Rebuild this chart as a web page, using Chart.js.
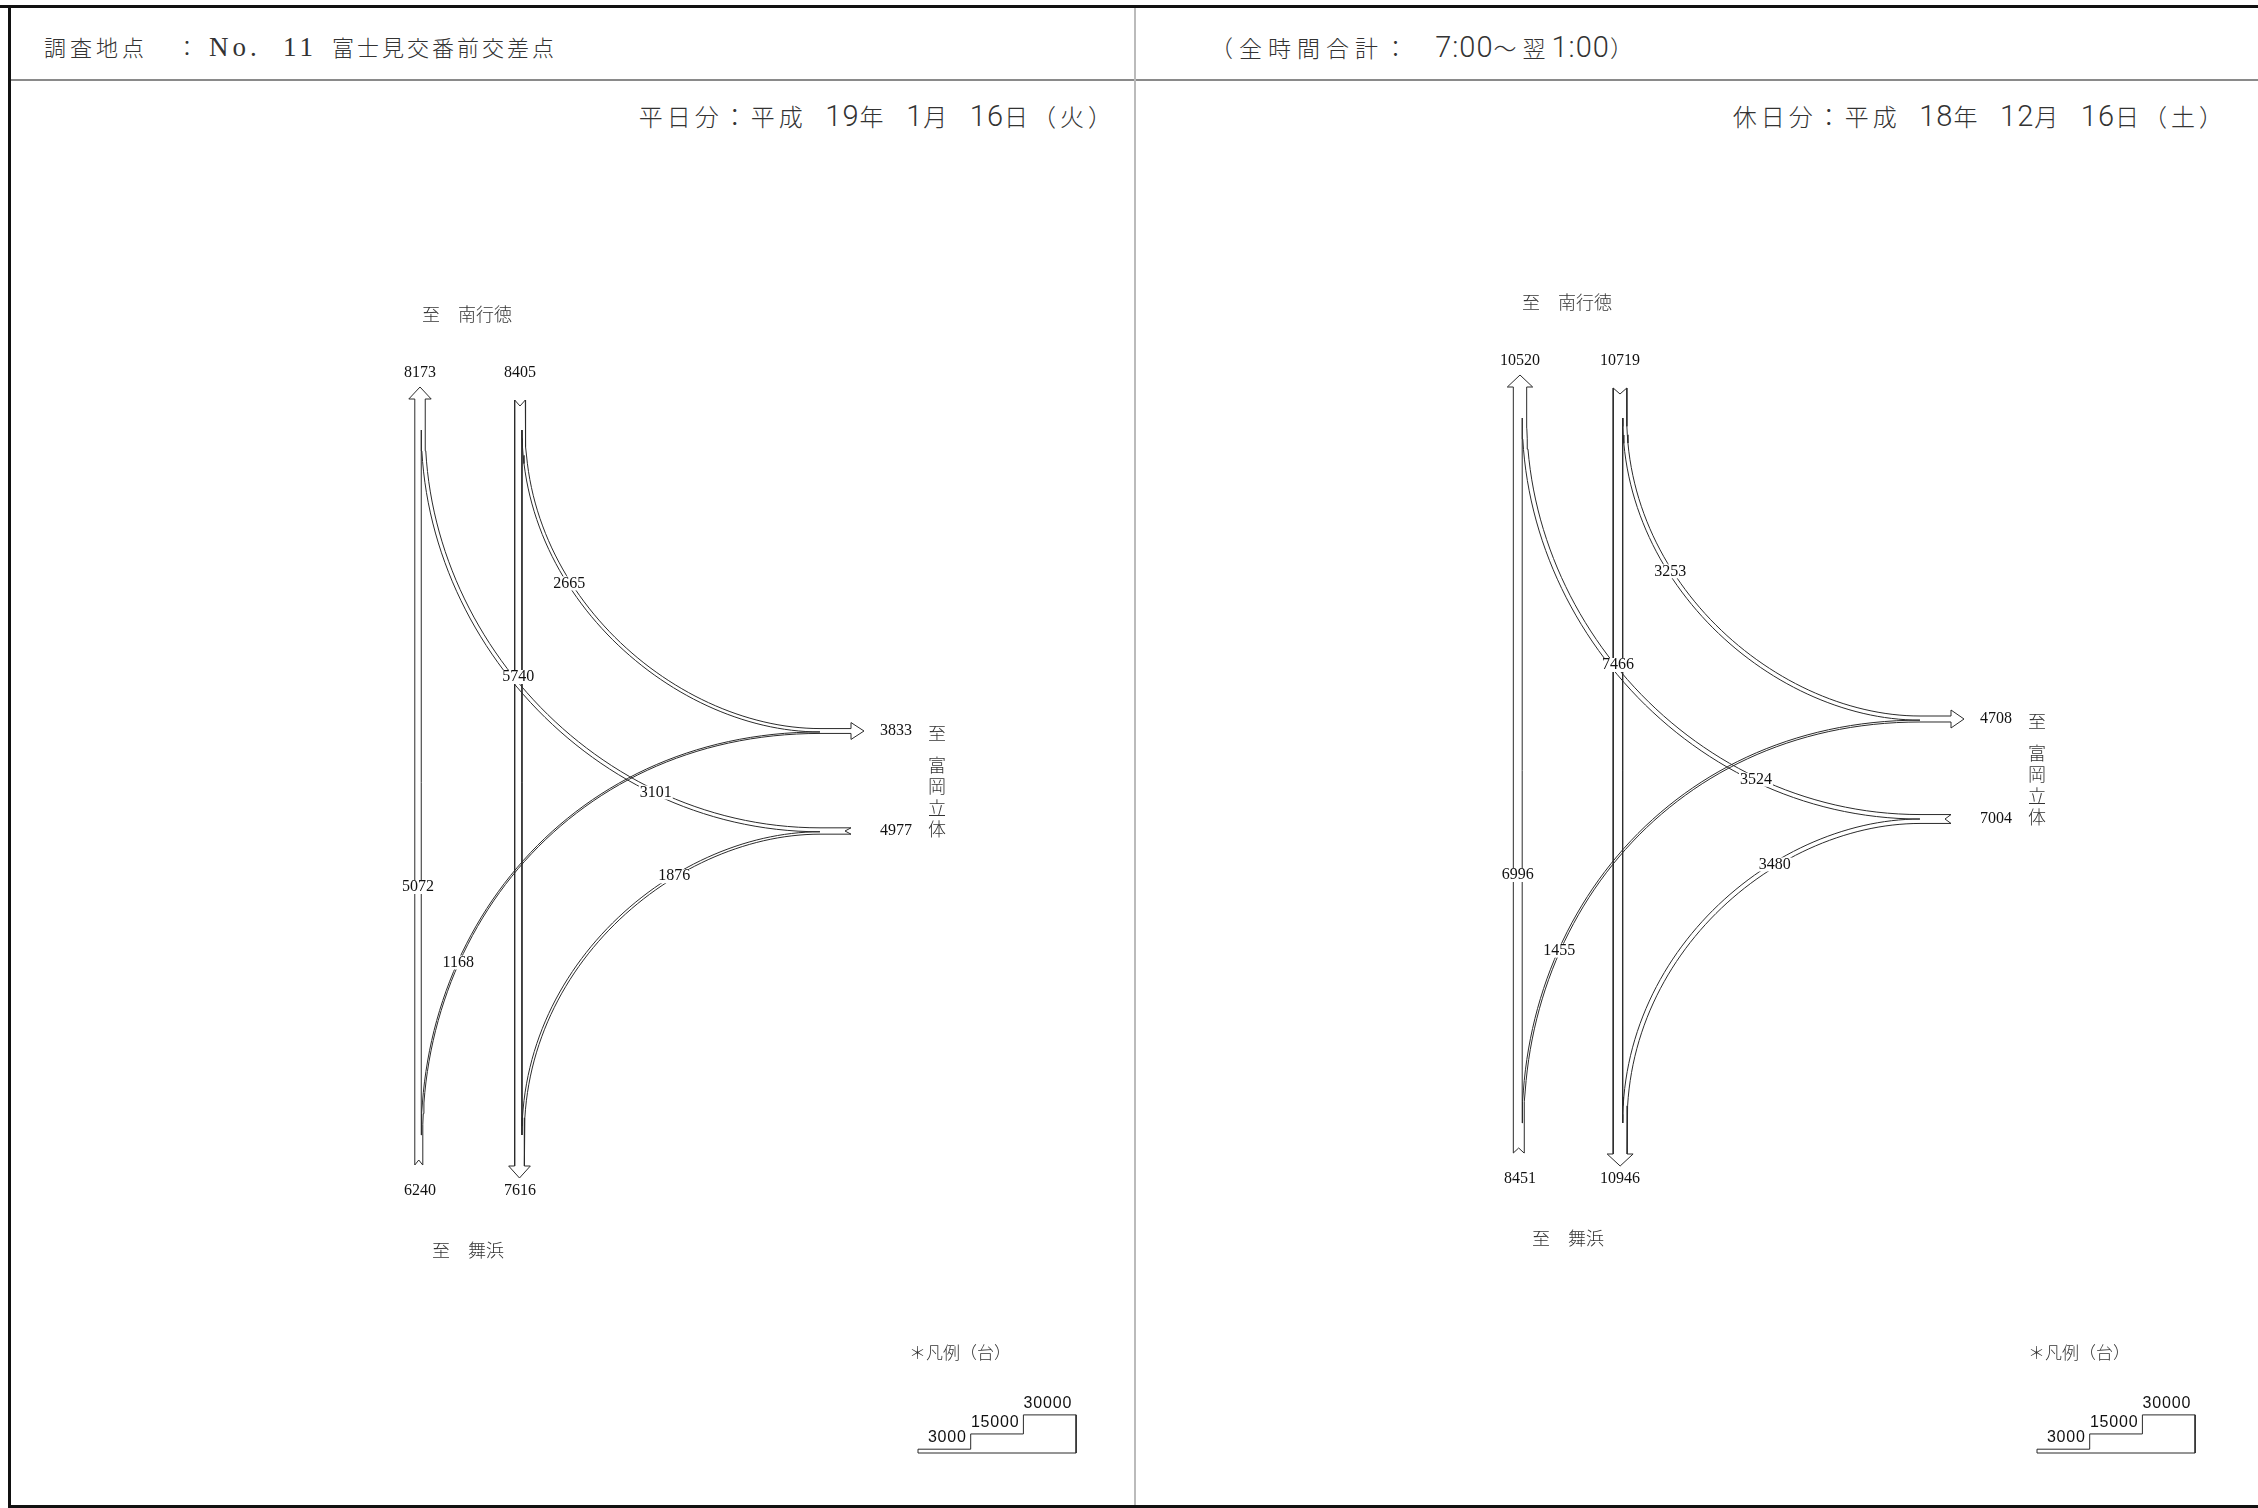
<!DOCTYPE html>
<html lang="ja">
<head>
<meta charset="utf-8">
<title>No.11 富士見交番前交差点 方向別交通量</title>
<script src="https://cdn.jsdelivr.net/npm/chart.js@4.4.1/dist/chart.umd.min.js"></script>
<style>
  html, body { margin: 0; padding: 0; background: #fff; }
  #page { position: relative; width: 2258px; height: 1508px; overflow: hidden;
          font-family: "Noto Sans CJK JP", sans-serif; color: #333; }
  #page canvas { position: absolute; left: 0; top: 0; }
  .rule { position: absolute; }
  .t { position: absolute; white-space: nowrap; font-weight: 300; font-size: 22px;
       line-height: 30px; letter-spacing: 3px; }
  .serif { font-family: "Liberation Serif", serif; font-size: 27px; letter-spacing: 4px; }
  .num { font-family: Roboto, sans-serif; font-weight: 300; font-size: 29px; letter-spacing: 1px; }
</style>
</head>
<body>
<div id="page">
  <!-- page frame -->
  <div class="rule" style="left:0;top:5px;width:2258px;height:3px;background:#111"></div>
  <div class="rule" style="left:8px;top:5px;width:3px;height:1503px;background:#111"></div>
  <div class="rule" style="left:8px;top:1505px;width:2250px;height:3px;background:#111"></div>
  <div class="rule" style="left:11px;top:79px;width:2247px;height:2px;background:#8a8a8a"></div>
  <div class="rule" style="left:1134px;top:8px;width:2px;height:1497px;background:#bbb"></div>

  <!-- header -->
  <div class="t" style="left:44px;top:31px;letter-spacing:4px">調査地点</div>
  <div class="t" style="left:176px;top:31px">：</div>
  <div class="t" style="left:209px;top:31px"><span class="serif">No.</span></div>
  <div class="t" style="left:283px;top:31px"><span class="serif">11</span></div>
  <div class="t" style="left:332px;top:31px">富士見交番前交差点</div>
  <div class="t" style="left:1210px;top:32px;font-size:23px;letter-spacing:6px">（全時間合計：&nbsp;&nbsp;<span class="num">7:00</span>〜翌<span class="num">1:00</span>）</div>

  <div class="t" style="right:1142px;top:101px;font-size:24px;letter-spacing:4px">平日分：平成&nbsp;&nbsp;<span class="num">19</span>年&nbsp;&nbsp;<span class="num">1</span>月&nbsp;&nbsp;<span class="num">16</span>日（火）</div>
  <div class="t" style="right:31px;top:101px;font-size:24px;letter-spacing:4px">休日分：平成&nbsp;&nbsp;<span class="num">18</span>年&nbsp;&nbsp;<span class="num">12</span>月&nbsp;&nbsp;<span class="num">16</span>日（土）</div>

  <canvas id="flowChart" width="2258" height="1508"></canvas>
</div>

<script>
// movements: [南→北 直進, 北→南 直進, 北→東, 南→東, 東→北, 東→南]
const movements = ['南→北', '北→南', '北→東', '南→東', '東→北', '東→南'];
const weekdayFlows = [5072, 5740, 2665, 1168, 3101, 1876];
const holidayFlows = [6996, 7466, 3253, 1455, 3524, 3480];

// leg totals: [北 流出, 北 流入, 東 流出, 東 流入, 南 流入, 南 流出]
const legs = ['南行徳 流出', '南行徳 流入', '富岡立体 流出', '富岡立体 流入', '舞浜 流入', '舞浜 流出'];
const weekdayLegs = [8173, 8405, 3833, 4977, 6240, 7616];
const holidayLegs = [10520, 10719, 4708, 7004, 8451, 10946];

const legendSteps = [3000, 15000, 30000];

// ---- layout (pixels of the page, the scales map 1:1) ----
const W = 2258, H = 1508;
const PX = 0.00127;                 // band width per vehicle
const panelShift = [[0, 0], [1100, -12]];
const legendShift = [0, 1119];
const G = {
  colL: 420, colR: 520,
  tipN: 387, baseN: 399, endN: 400, splitN: 430,
  splitS: 1135, endS: 1165, baseS: 1166, tipS: 1178,
  exitY: 731, entryY: 831, join: 820, eastEnd: 851, eastTip: 864,
  head: 6, notch: 6
};
const LINE = '#2b2b2b';
const NUM_FONT = '16px "Liberation Serif", serif';
const JP_FONT = '300 18px "Noto Sans CJK JP", sans-serif';

function cubic(p0, p1, p2, p3, n) {
  const pts = [];
  for (let i = 0; i <= n; i++) {
    const t = i / n, m = 1 - t;
    const a = m * m * m, b = 3 * m * m * t, c = 3 * m * t * t, d = t * t * t;
    pts.push({ x: a * p0.x + b * p1.x + c * p2.x + d * p3.x,
               y: a * p0.y + b * p1.y + c * p2.y + d * p3.y });
  }
  return pts;
}

// shift a polyline sideways by d along its normal
function offset(pts, d) {
  return pts.map((p, i) => {
    const a = pts[Math.max(i - 1, 0)], b = pts[Math.min(i + 1, pts.length - 1)];
    const dx = b.x - a.x, dy = b.y - a.y, len = Math.hypot(dx, dy) || 1;
    return { x: p.x - dy / len * d, y: p.y + dx / len * d };
  });
}

function nearestY(pts, y) {
  return pts.reduce((best, p) => Math.abs(p.y - y) < Math.abs(best.y - y) ? p : best, pts[0]);
}

const datasets = [];
const labels = [];

function line(points) {
  datasets.push({ data: points, showLine: true, borderColor: LINE, borderWidth: 1,
                  pointRadius: 0, fill: false, tension: 0 });
}

// a turning movement: straight lead-in, curve, straight lead-out
function turn(start, ctrl, end, w, side) {
  const c = cubic(ctrl[0], ctrl[1], ctrl[2], ctrl[3], 60);
  line(offset([start, ...c, end], side * w / 2));
  line(offset(c, -side * w / 2));
  return c;
}

function buildPanel(flows, legTotals, shift) {
  const [ox, oy] = shift;
  const X = v => v + ox, Y = v => v + oy;
  const [sn, ns, ne, se, en, es] = flows.map(v => v * PX);
  const xL = X(G.colL) - legTotals[0] * PX / 2;
  const xR = X(G.colR) - legTotals[1] * PX / 2;
  const exitTop = Y(G.exitY) - legTotals[2] * PX / 2;
  const entryTop = Y(G.entryY) - legTotals[3] * PX / 2;

  // through bands
  line([{ x: xL, y: Y(G.endS) }, { x: xL, y: Y(G.baseN) }]);
  line([{ x: xL + sn, y: Y(G.splitS) }, { x: xL + sn, y: Y(G.splitN) }]);
  line([{ x: xR, y: Y(G.endN) }, { x: xR, y: Y(G.baseS) }]);
  line([{ x: xR + ns, y: Y(G.splitN) }, { x: xR + ns, y: Y(G.splitS) }]);

  // 北→東
  let x0 = xR + ns + ne / 2, y1 = exitTop + ne / 2;
  const cNE = turn({ x: x0, y: Y(G.endN) },
    [{ x: x0, y: Y(G.splitN) }, { x: x0, y: Y(600) }, { x: X(680), y: y1 }, { x: X(G.join), y: y1 }],
    { x: X(G.eastEnd), y: y1 }, ne, -1);
  // 東→北
  x0 = xL + sn + en / 2; y1 = entryTop + en / 2;
  const cEN = turn({ x: X(G.eastEnd), y: y1 },
    [{ x: X(G.join), y: y1 }, { x: X(600), y: y1 }, { x: x0, y: Y(640) }, { x: x0, y: Y(G.splitN) }],
    { x: x0, y: Y(G.baseN) }, en, 1);
  // 南→東
  x0 = xL + sn + se / 2; y1 = exitTop + ne + se / 2;
  const cSE = turn({ x: x0, y: Y(G.endS) },
    [{ x: x0, y: Y(G.splitS) }, { x: x0, y: Y(920) }, { x: X(580), y: y1 }, { x: X(G.join), y: y1 }],
    { x: X(G.eastEnd), y: y1 }, se, 1);
  // 東→南
  x0 = xR + ns + es / 2; y1 = entryTop + en + es / 2;
  const cES = turn({ x: X(G.eastEnd), y: y1 },
    [{ x: X(G.join), y: y1 }, { x: X(680), y: y1 }, { x: x0, y: Y(960) }, { x: x0, y: Y(G.splitS) }],
    { x: x0, y: Y(G.baseS) }, es, -1);

  // arrow heads (outflow) and notches (inflow)
  const h = G.head;
  let a = xL, b = xL + sn + en;
  line([{ x: a, y: Y(G.baseN) }, { x: a - h, y: Y(G.baseN) }, { x: (a + b) / 2, y: Y(G.tipN) },
        { x: b + h, y: Y(G.baseN) }, { x: b, y: Y(G.baseN) }]);
  a = xR; b = xR + ns + es;
  line([{ x: a, y: Y(G.baseS) }, { x: a - h, y: Y(G.baseS) }, { x: (a + b) / 2, y: Y(G.tipS) },
        { x: b + h, y: Y(G.baseS) }, { x: b, y: Y(G.baseS) }]);
  a = exitTop; b = exitTop + ne + se;
  line([{ x: X(G.eastEnd), y: a }, { x: X(G.eastEnd), y: a - h }, { x: X(G.eastTip), y: (a + b) / 2 },
        { x: X(G.eastEnd), y: b + h }, { x: X(G.eastEnd), y: b }]);
  a = xR; b = xR + ns + ne;
  line([{ x: a, y: Y(G.endN) }, { x: (a + b) / 2, y: Y(G.endN) + G.notch }, { x: b, y: Y(G.endN) }]);
  a = xL; b = xL + sn + se;
  line([{ x: a, y: Y(G.endS) }, { x: (a + b) / 2, y: Y(G.endS) - G.notch + 1 }, { x: b, y: Y(G.endS) }]);
  a = entryTop; b = entryTop + en + es;
  line([{ x: X(G.eastEnd), y: a }, { x: X(G.eastEnd) - G.notch, y: (a + b) / 2 }, { x: X(G.eastEnd), y: b }]);

  // numbers
  const num = (v, p, bg) => labels.push({ text: String(v), x: p.x, y: p.y, font: NUM_FONT, bg });
  num(flows[0], { x: xL + sn / 2, y: Y(887) }, true);
  num(flows[1], { x: xR + ns / 2, y: Y(677) }, true);
  num(flows[2], nearestY(cNE, Y(586)), true);
  num(flows[3], nearestY(cSE, Y(959)), true);
  num(flows[4], nearestY(cEN, Y(792)), true);
  num(flows[5], nearestY(cES, Y(876)), true);
  num(legTotals[0], { x: X(G.colL), y: Y(373) });
  num(legTotals[1], { x: X(G.colR), y: Y(373) });
  num(legTotals[2], { x: X(896), y: Y(731) });
  num(legTotals[3], { x: X(896), y: Y(831) });
  num(legTotals[4], { x: X(G.colL), y: Y(1191) });
  num(legTotals[5], { x: X(G.colR), y: Y(1191) });

  // destinations
  const jp = (text, x, y, align) => labels.push({ text, x, y, font: JP_FONT, align, color: '#333' });
  jp('至　南行徳', X(422), Y(314), 'left');
  jp('至　舞浜', X(432), Y(1250), 'left');
  jp('至', X(937), Y(733));
  [...'富岡立体'].forEach((ch, i) => jp(ch, X(937), Y(765 + i * 21.5)));
}

function buildLegend(lx) {
  const base = 1453, x0 = 918 + lx, sw = 52.7;
  const hs = legendSteps.map(v => v * PX);
  const pts = [{ x: x0, y: base }];
  hs.forEach((hh, i) => {
    pts.push({ x: x0 + i * sw, y: base - hh }, { x: x0 + (i + 1) * sw, y: base - hh });
  });
  pts.push({ x: x0 + 3 * sw, y: base }, { x: x0, y: base });
  line(pts);
  hs.forEach((hh, i) => labels.push({
    text: String(legendSteps[i]), x: x0 + (i + 1) * sw - 4, y: base - hh - 7,
    font: '16px "Liberation Sans", sans-serif', align: 'right', baseline: 'alphabetic', spacing: '0.8px'
  }));
  labels.push({ text: '＊凡例（台）', x: 909 + lx, y: 1353, font: '300 17px "Noto Sans CJK JP", sans-serif',
                align: 'left', color: '#333' });
}

buildPanel(weekdayFlows, weekdayLegs, panelShift[0]);
buildPanel(holidayFlows, holidayLegs, panelShift[1]);
legendShift.forEach(buildLegend);

const flowLabels = {
  id: 'flowLabels',
  afterDatasetsDraw(chart) {
    const { ctx, scales: { x, y } } = chart;
    ctx.save();
    labels.forEach(l => {
      ctx.font = l.font;
      ctx.letterSpacing = l.spacing || '0px';
      ctx.textAlign = l.align || 'center';
      ctx.textBaseline = l.baseline || 'middle';
      const px = x.getPixelForValue(l.x), py = y.getPixelForValue(l.y);
      if (l.bg) {
        const w = ctx.measureText(l.text).width;
        ctx.fillStyle = '#fff';
        ctx.fillRect(px - w / 2 - 1, py - 7, w + 2, 14);
      }
      ctx.fillStyle = l.color || '#111';
      ctx.fillText(l.text, px, py);
    });
    ctx.restore();
  }
};

new Chart(document.getElementById('flowChart'), {
  type: 'scatter',
  data: { datasets },
  options: {
    responsive: false,
    animation: false,
    events: [],
    layout: { padding: 0 },
    scales: {
      x: { type: 'linear', min: 0, max: W, display: false },
      y: { type: 'linear', min: 0, max: H, reverse: true, display: false }
    },
    plugins: { legend: { display: false }, tooltip: { enabled: false } }
  },
  plugins: [flowLabels]
});
</script>
</body>
</html>
